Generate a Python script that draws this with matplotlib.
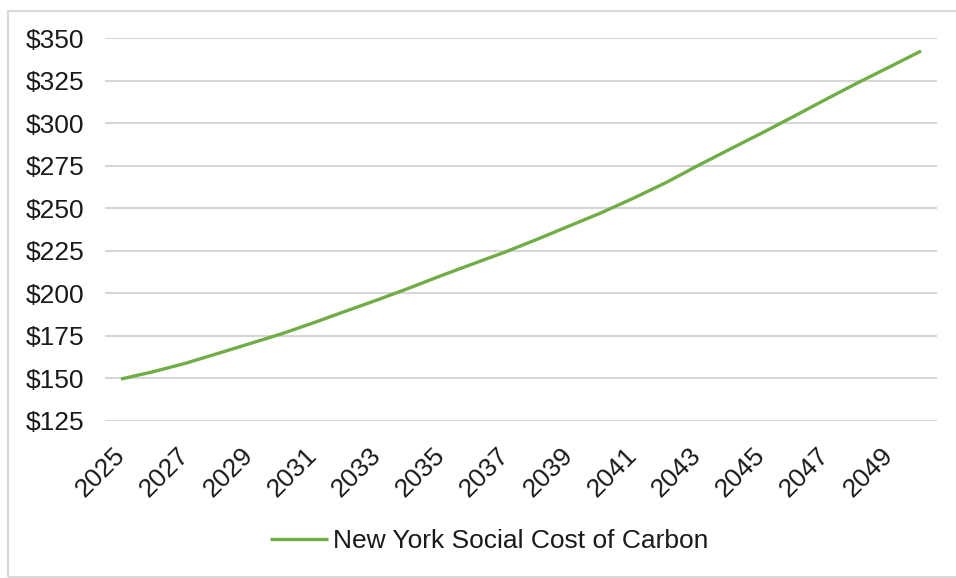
import matplotlib
matplotlib.use("Agg")
import matplotlib.pyplot as plt
import matplotlib.transforms as mtransforms
from matplotlib.patches import Rectangle

years = list(range(2025, 2051))
social_cost = [
    149.5, 153.8, 158.7, 164.4, 170.2, 176.0, 182.5, 189.3, 196.0, 203.0,
    210.3, 217.3, 224.2, 231.7, 239.5, 247.3, 255.8, 264.8, 274.8, 284.5,
    294.0, 303.8, 313.8, 323.6, 333.0, 342.5,
]
y_ticks = [125, 150, 175, 200, 225, 250, 275, 300, 325, 350]
series_label = "New York Social Cost of Carbon"

plt.rcParams["font.family"] = ["Liberation Sans", "DejaVu Sans"]

fig = plt.figure(figsize=(9.56, 5.78), dpi=100)
ax = fig.add_axes([105 / 956, 1 - 420.7 / 578, (937 - 105) / 956, (420.7 - 38.3) / 578])

# outer chart border (right edge falls outside the image)
fig.patches.append(Rectangle((8 / 956, 1 / 578), 1.1, 1 - 12 / 578,
                             transform=fig.transFigure, fill=False,
                             edgecolor="#d9d9d9", linewidth=1.5))

x = list(range(len(years)))
ax.plot(x, social_cost, color="#70ad47", linewidth=2.4,
        solid_capstyle="butt", label=series_label, zorder=3)

ax.set_xlim(-0.5, len(years) - 0.5)
ax.set_ylim(125, 350)
ax.set_yticks(y_ticks)
ax.set_yticklabels([f"${v}" for v in y_ticks])
ax.yaxis.grid(True, color="#d6d6d6", linewidth=1.5)
ax.set_axisbelow(True)

ax.set_xticks(x[::2])
ax.set_xticklabels([str(y) for y in years[::2]], rotation=45,
                   ha="right", va="center", rotation_mode="anchor")
shift = mtransforms.ScaledTranslation(4 / 100, 0, fig.dpi_scale_trans)
for lbl in ax.get_xticklabels():
    lbl.set_transform(lbl.get_transform() + shift)

for s in ax.spines.values():
    s.set_visible(False)
ax.tick_params(axis="both", length=0, labelsize=19, colors="#1a1a1a")
ax.tick_params(axis="y", pad=15)
ax.tick_params(axis="x", pad=22)

fig.legend(loc="center", bbox_to_anchor=(489 / 956, 1 - 541 / 578),
           frameon=False, fontsize=19, handlelength=2.2, handletextpad=0.2,
           labelcolor="#1a1a1a")

fig.savefig("out.png", dpi=100)
plt.close(fig)
